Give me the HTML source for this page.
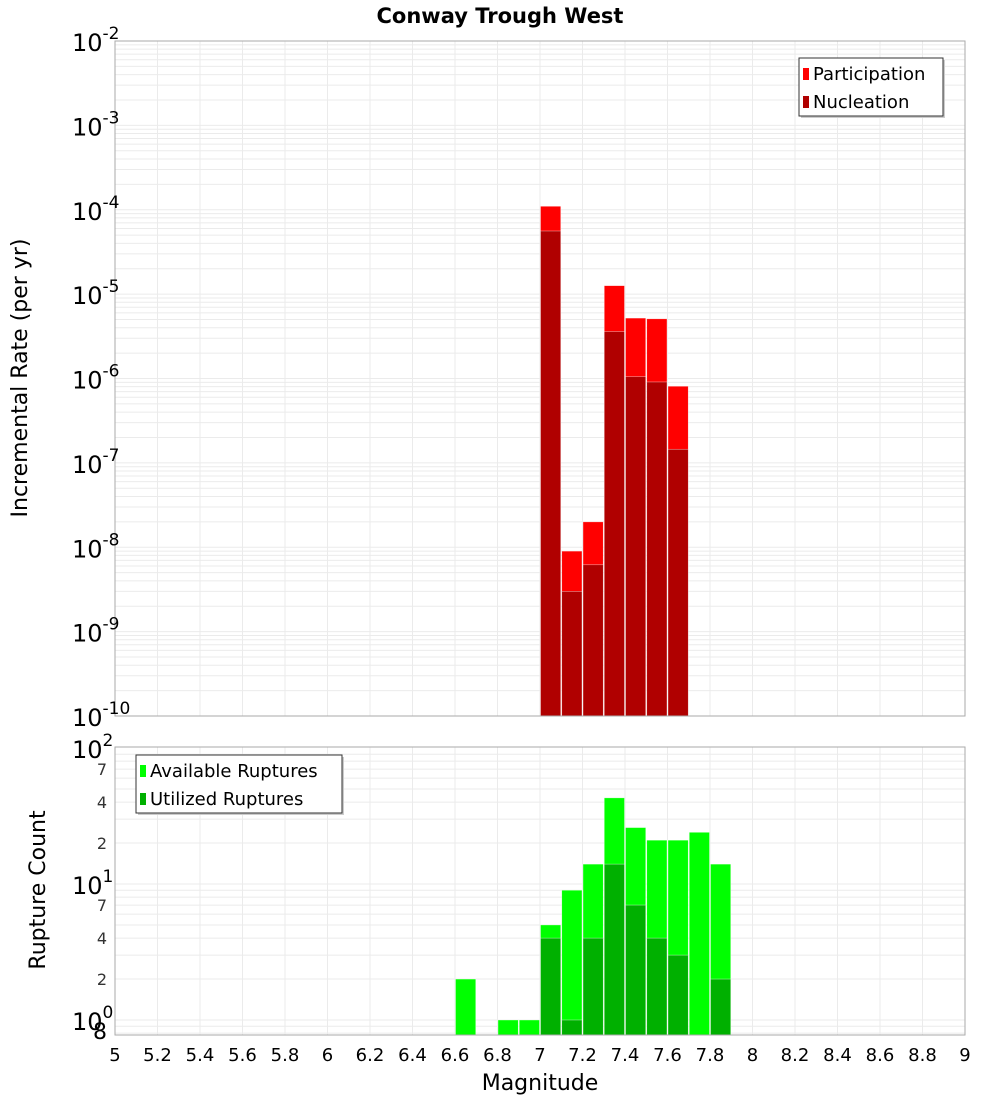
<!DOCTYPE html>
<html><head><meta charset="utf-8"><style>
body{margin:0;background:#fff;}
svg{display:block;font-family:"DejaVu Sans","Liberation Sans",sans-serif;}
</style></head><body>
<svg id="c" width="1000" height="1100"></svg>
<script>
const mags=[6.6,6.7,6.8,6.9,7.0,7.1,7.2,7.3,7.4,7.5,7.6,7.7,7.8];
const partRates=[0,0,0,0,1.1e-4,9e-9,2e-8,1.26e-5,5.2e-6,5.1e-6,8.1e-7,0,0];
const nuclRates=[0,0,0,0,5.6e-5,3e-9,6.2e-9,3.6e-6,1.05e-6,9.1e-7,1.45e-7,0,0];
const availCounts=[2,0,1,1,5,9,14,43,26,21,21,24,14];
const utilCounts=[0,0,0,0,4,1,4,14,7,4,3,0,2];
const xTicks=[5,5.2,5.4,5.6,5.8,6,6.2,6.4,6.6,6.8,7,7.2,7.4,7.6,7.8,8,8.2,8.4,8.6,8.8,9];

const NS="http://www.w3.org/2000/svg";
const svg=document.getElementById('c');
function mk(t,a,p){const e=document.createElementNS(NS,t);for(const k in a)e.setAttribute(k,a[k]);(p||svg).appendChild(e);return e;}
const X0=115,X1=965;
const xs=m=>X0+(m-5)/4*(X1-X0);
const T0=41,T1=716, B0=747,B1=1035;
const ty=v=>T0+(-2-Math.log10(v))*(T1-T0)/8;
const by=v=>1020-Math.log10(v)*136;

// title
let t=mk('text',{x:500,y:23,'text-anchor':'middle','font-size':21,'font-weight':'bold'});
t.textContent='Conway Trough West';



function panel(y0,y1,name){
  const g=mk('g',{});
  
  
  mk('rect',{x:X0,y:y0,width:X1-X0,height:y1-y0,fill:'#fff'},g);
  return g;
}
// top panel
const gt=panel(T0,T1,'rate-plot');
for(let d=-10;d<-2;d++){for(let k=1;k<10;k++){const y=ty(k*Math.pow(10,d));mk('line',{x1:X0,x2:X1,y1:y,y2:y,stroke:'#ebebeb','stroke-width':1},gt);}}
xTicks.forEach(m=>{mk('line',{x1:xs(m),x2:xs(m),y1:T0,y2:T1,stroke:'#ebebeb'},gt);});
// bottom panel
const gb=panel(B0,B1,'count-plot');
[0.8,0.9,1,2,3,4,5,6,7,8,9,10,20,30,40,50,60,70,80,90].forEach(v=>{const y=by(v);mk('line',{x1:X0,x2:X1,y1:y,y2:y,stroke:'#ebebeb'},gb);});
xTicks.forEach(m=>{mk('line',{x1:xs(m),x2:xs(m),y1:B0,y2:B1,stroke:'#ebebeb'},gb);});

function bars(g,vals,col,yf,base,name){
  mags.forEach((m,i)=>{const v=vals[i];if(!v)return;
    const x=xs(m)+0.5,w=xs(m+0.1)-xs(m)-1,y=yf(v);
    const r=mk('rect',{x:x,y:y,width:w,height:base-y,fill:col,stroke:'rgba(255,255,255,0.6)','stroke-width':0.6},g);
    
    
  });
}
bars(gt,partRates,'#ff0000',ty,T1,'participation-bar');
bars(gt,nuclRates,'#b00000',ty,T1,'nucleation-bar');
bars(gb,availCounts,'#00ff00',by,B1,'available-bar');
bars(gb,utilCounts,'#00b000',by,B1,'utilized-bar');

mk('rect',{x:X0,y:T0,width:X1-X0,height:T1-T0,fill:'none',stroke:'#aaa'});
mk('rect',{x:X0,y:B0,width:X1-X0,height:B1-B0,fill:'none',stroke:'#aaa'});

// top y ticks
for(let d=-10;d<=-2;d++){
  const y=ty(Math.pow(10,d));
  const tx=mk('text',{x:72,y:y+10,'font-size':24});
  tx.textContent='10';
  const s=mk('tspan',{dy:-12,'font-size':17},tx);s.textContent=String(d);
  
  
}
// bottom y ticks
[0,1,2].forEach(d=>{const y=by(Math.pow(10,d));
  const tx=mk('text',{x:72,y:y+10,'font-size':24});tx.textContent='10';
  const s=mk('tspan',{dy:-12,'font-size':17},tx);s.textContent=String(d);
  
  
});
[2,4,7,20,40,70,0.8].forEach(v=>{const y=by(v);
  const tx=mk('text',{x:107,y:y+6,'font-size':v<1?22:16,'text-anchor':'end',fill:v<1?'#000':'#333'});
  tx.textContent=v<1?'8':String(v<10?v:v/10);
  
  
});
// x ticks
xTicks.forEach(m=>{const tx=mk('text',{x:xs(m),y:1061,'font-size':18,'text-anchor':'middle'});
  tx.textContent=String(m);
  
  
});
// axis titles
t=mk('text',{x:540,y:1090,'font-size':22,'text-anchor':'middle'});t.textContent='Magnitude';

t=mk('text',{x:0,y:0,'font-size':22,'text-anchor':'middle',transform:'translate(27,378) rotate(-90)'});t.textContent='Incremental Rate (per yr)';

t=mk('text',{x:0,y:0,'font-size':22,'text-anchor':'middle',transform:'translate(45,890) rotate(-90)'});t.textContent='Rupture Count';


// legends
function legend(x,y,w,items,name){
  const g=mk('g',{});
  
  
  mk('rect',{x:x+2,y:y+2,width:w,height:58,fill:'#ccc'},g);
  mk('rect',{x:x,y:y,width:w,height:58,fill:'#fff',stroke:'#333'},g);
  items.forEach((it,i)=>{
    mk('rect',{x:x+4,y:y+10+i*28,width:6,height:12,fill:it[1]},g);
    const tx=mk('text',{x:x+14,y:y+22+i*28,'font-size':18},g);tx.textContent=it[0];
    
    
  });
}
legend(799,58,144,[['Participation','#ff0000'],['Nucleation','#b00000']],'rate-legend');
legend(136,755,206,[['Available Ruptures','#00ff00'],['Utilized Ruptures','#00b000']],'count-legend');
</script>
</body></html>
